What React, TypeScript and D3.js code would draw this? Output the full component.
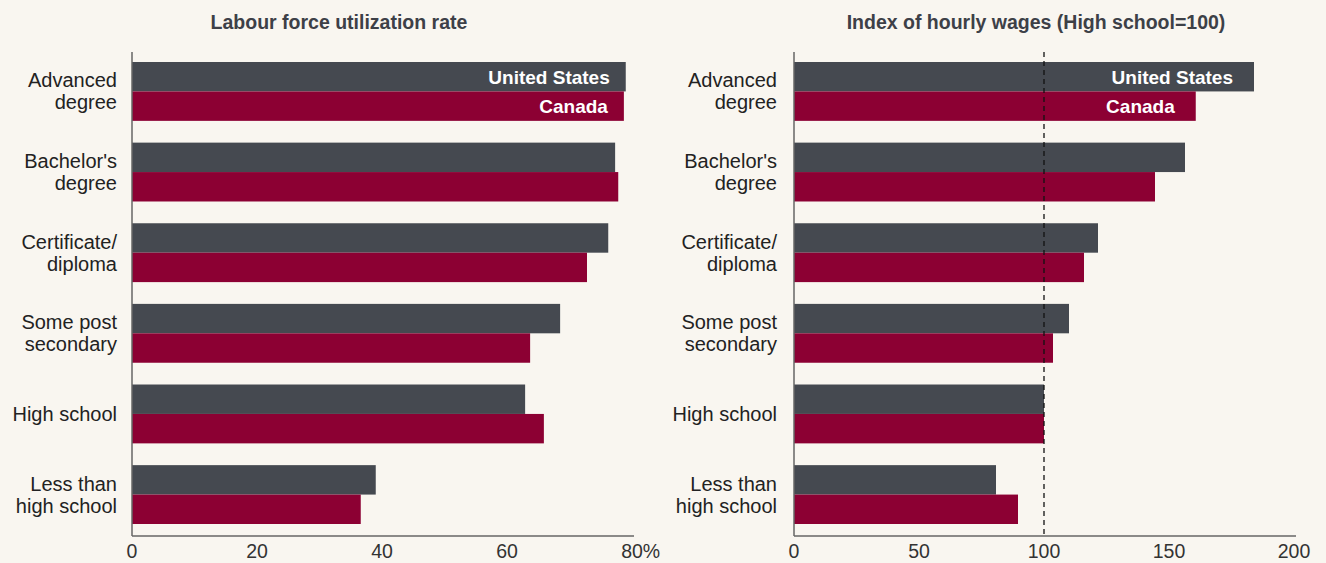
import { useEffect, useRef } from "react";
import * as d3 from "d3";

const categories = [
  "Advanced degree",
  "Bachelor's degree",
  "Certificate/ diploma",
  "Some post secondary",
  "High school",
  "Less than high school",
];
const categoryLines = [
  ["Advanced", "degree"],
  ["Bachelor's", "degree"],
  ["Certificate/", "diploma"],
  ["Some post", "secondary"],
  ["High school"],
  ["Less than", "high school"],
];
const seriesNames = ["United States", "Canada"];

const utilizationUS = [79.0, 77.3, 76.2, 68.5, 62.9, 39.0];
const utilizationCanada = [78.7, 77.8, 72.8, 63.7, 65.9, 36.6];
const utilizationTicks = [0, 20, 40, 60, 80];

const wagesUS = [184, 156.4, 121.6, 110, 100, 80.8];
const wagesCanada = [160.7, 144.4, 116, 103.6, 100, 89.6];
const wageTicks = [0, 50, 100, 150, 200];

const BG = "#f9f6f0";
const US_COLOR = "#454950";
const CA_COLOR = "#8c0033";
const FONT = "'Liberation Sans', Arial, sans-serif";

interface Panel {
  title: string;
  titleX: number;
  x0: number;
  x1: number;
  labelX: number;
  domain: [number, number];
  ticks: number[];
  suffix: string;
  us: number[];
  ca: number[];
  refLine?: number;
  pad: number;
}

const panels: Panel[] = [
  {
    title: "Labour force utilization rate",
    titleX: 339,
    x0: 132,
    x1: 632,
    labelX: 117,
    domain: [0, 80],
    ticks: utilizationTicks,
    suffix: "%",
    us: utilizationUS,
    ca: utilizationCanada,
    pad: 16,
  },
  {
    title: "Index of hourly wages (High school=100)",
    titleX: 1036,
    x0: 794,
    x1: 1294,
    labelX: 777,
    domain: [0, 200],
    ticks: wageTicks,
    suffix: "",
    us: wagesUS,
    ca: wagesCanada,
    refLine: 100,
    pad: 21,
  },
];

export default function App() {
  const svgRef = useRef<SVGSVGElement>(null);

  useEffect(() => {
    document.body.style.margin = "0";
    if (!svgRef.current) return;
    const width = 1326;
    const height = 563;
    const top = 62;
    const bottom = 524;
    const axisY = 536;

    const svg = d3.select(svgRef.current);
    svg.selectAll("*").remove();
    svg.attr("width", width).attr("height", height);

    svg.append("rect").attr("width", width).attr("height", height).attr("fill", BG);

    const y = d3
      .scaleBand()
      .domain(categories)
      .range([top, bottom])
      .paddingInner(0.27)
      .paddingOuter(0);
    const ySub = d3.scaleBand().domain(seriesNames).range([0, y.bandwidth()]);

    panels.forEach((p) => {
      const x = d3.scaleLinear().domain(p.domain).range([p.x0, p.x1]);
      const g = svg.append("g");

      g.append("text")
        .attr("x", p.titleX)
        .attr("y", 29)
        .attr("text-anchor", "middle")
        .attr("fill", "#3d4047")
        .style("font-family", FONT)
        .style("font-weight", "bold")
        .style("font-size", "19.5px")
        .text(p.title);

      categories.forEach((c, i) => {
        const vals = [p.us[i], p.ca[i]];
        seriesNames.forEach((s, j) => {
          g.append("rect")
            .attr("x", x(0))
            .attr("y", (y(c) ?? 0) + (ySub(s) ?? 0))
            .attr("width", x(vals[j]) - x(0))
            .attr("height", ySub.bandwidth())
            .attr("fill", j === 0 ? US_COLOR : CA_COLOR);
          if (i === 0) {
            g.append("text")
              .attr("x", x(vals[j]) - p.pad)
              .attr("y", (y(c) ?? 0) + (ySub(s) ?? 0) + ySub.bandwidth() / 2)
              .attr("dy", "0.36em")
              .attr("text-anchor", "end")
              .attr("fill", "#fff")
              .style("font-family", FONT)
              .style("font-weight", "bold")
              .style("font-size", "19px")
              .text(s);
          }
        });

        const lines = categoryLines[i];
        const cy = (y(c) ?? 0) + y.bandwidth() / 2;
        lines.forEach((ln, k) => {
          g.append("text")
            .attr("x", p.labelX)
            .attr("y", cy + (k - (lines.length - 1) / 2) * 22)
            .attr("dy", "0.35em")
            .attr("text-anchor", "end")
            .attr("fill", "#222")
            .style("font-family", FONT)
            .style("font-size", "20px")
            .text(ln);
        });
      });

      if (p.refLine !== undefined) {
        g.append("line")
          .attr("x1", x(p.refLine))
          .attr("x2", x(p.refLine))
          .attr("y1", 52)
          .attr("y2", axisY)
          .attr("stroke", "#111")
          .attr("stroke-width", 1.3)
          .attr("stroke-dasharray", "5,4");
      }

      // axes
      g.append("line")
        .attr("x1", p.x0)
        .attr("x2", p.x0)
        .attr("y1", 52)
        .attr("y2", axisY)
        .attr("stroke", "#666")
        .attr("stroke-width", 1.5);
      g.append("line")
        .attr("x1", p.x0)
        .attr("x2", p.x1 + 2)
        .attr("y1", axisY)
        .attr("y2", axisY)
        .attr("stroke", "#666")
        .attr("stroke-width", 1.5);

      p.ticks.forEach((t, k) => {
        const last = k === p.ticks.length - 1 && p.suffix;
        const txt = g
          .append("text")
          .attr("x", x(t))
          .attr("y", 558)
          .attr("text-anchor", "middle")
          .attr("fill", "#333")
          .style("font-family", FONT)
          .style("font-size", "19.5px")
          .text(String(t));
        if (last) {
          const w = (txt.node() as SVGTextElement).getComputedTextLength();
          txt.attr("text-anchor", "start").attr("x", x(t) - w / 2).text(`${t}${p.suffix}`);
        }
      });
    });
  }, []);

  return <svg ref={svgRef} style={{ display: "block" }} />;
}
